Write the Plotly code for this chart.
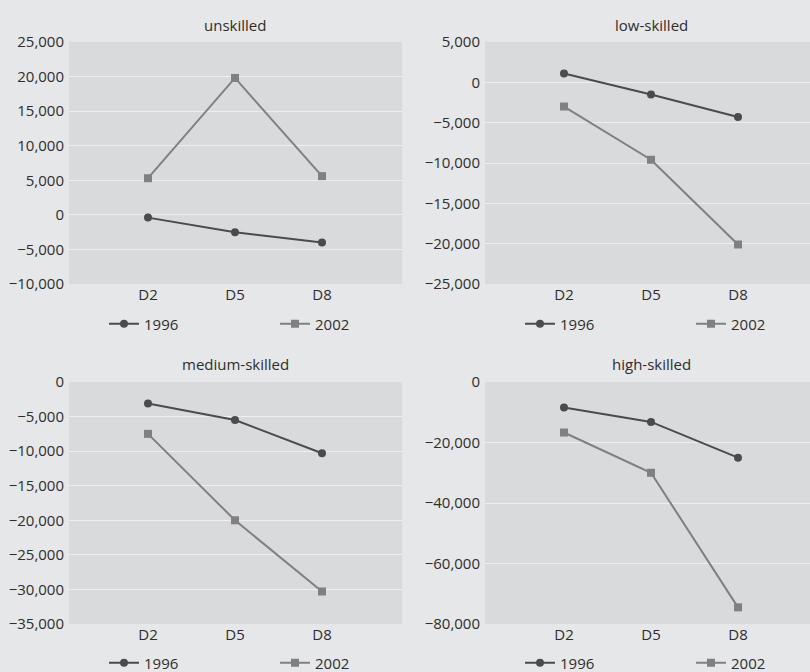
import plotly.graph_objects as go

# deciles shown on the x axis
deciles = ["D2", "D5", "D8"]

# values (1996 vs 2002)
unskilled_1996 = [-400, -2500, -4000]
unskilled_2002 = [5300, 19800, 5600]
low_1996 = [1100, -1500, -4300]
low_2002 = [-3000, -9600, -20100]
medium_1996 = [-3100, -5500, -10300]
medium_2002 = [-7500, -20000, -30300]
high_1996 = [-8400, -13200, -25000]
high_2002 = [-16700, -30000, -74500]

panel_titles = ["unskilled", "low-skilled", "medium-skilled", "high-skilled"]
y_ranges = [[-10000, 25000], [-25000, 5000], [-35000, 0], [-80000, 0]]
y_dticks = [5000, 5000, 5000, 20000]

W, H = 810, 672
paper_bg = "#e6e7e8"
plot_bg = "#d9dadb"
col_1996 = "#4b4b4d"
col_2002 = "#808082"
font = dict(family="Open Sans", size=15, color="#2e2e2e")

# panel boxes in pixels: (left, right, top, bottom)
boxes = [
    (69, 402, 42, 284),
    (485, 810, 42, 284),
    (69, 402, 382, 624),
    (485, 810, 382, 624),
]
title_y = [25, 25, 364, 364]
legend_y = [324, 324, 663, 663]
step = 87  # pixels between categories
first_cat = 79  # pixels from left edge of panel to D2

series = [
    (unskilled_1996, unskilled_2002),
    (low_1996, low_2002),
    (medium_1996, medium_2002),
    (high_1996, high_2002),
]

fig = go.Figure()
layout = {}
annotations = []

for i, (s96, s02) in enumerate(series):
    n = "" if i == 0 else str(i + 1)
    left, right, top, bottom = boxes[i]
    x0 = -first_cat / step
    x1 = x0 + (right - left) / step
    leg_a = "legend" if i == 0 else "legend" + str(2 * i + 1)
    leg_b = "legend" + str(2 * i + 2)

    fig.add_trace(
        go.Scatter(
            x=deciles,
            y=s96,
            name="1996",
            mode="lines+markers",
            line=dict(color=col_1996, width=2),
            marker=dict(symbol="circle", size=8, color=col_1996),
            xaxis="x" + n,
            yaxis="y" + n,
            legend=leg_a,
        )
    )
    fig.add_trace(
        go.Scatter(
            x=deciles,
            y=s02,
            name="2002",
            mode="lines+markers",
            line=dict(color=col_2002, width=2),
            marker=dict(symbol="square", size=8, color=col_2002),
            xaxis="x" + n,
            yaxis="y" + n,
            legend=leg_b,
        )
    )

    layout["xaxis" + n] = dict(
        domain=[left / W, right / W],
        anchor="y" + n,
        type="category",
        range=[x0, x1],
        showgrid=False,
        zeroline=False,
        showline=False,
        ticks="",
        tickfont=font,
    )
    layout["yaxis" + n] = dict(
        domain=[1 - bottom / H, 1 - top / H],
        anchor="x" + n,
        range=y_ranges[i],
        dtick=y_dticks[i],
        tick0=0,
        tickformat=",d",
        showgrid=True,
        gridcolor="#efefef",
        gridwidth=1.2,
        zeroline=False,
        showline=False,
        ticks="",
        ticklabelstandoff=4,
        tickfont=font,
    )
    for leg, offset in ((leg_a, 35), (leg_b, 206)):
        layout[leg] = dict(
            orientation="h",
            x=(left + offset) / W,
            xanchor="left",
            y=1 - legend_y[i] / H,
            yanchor="middle",
            bgcolor="rgba(0,0,0,0)",
            font=font,
            itemwidth=30,
        )
    annotations.append(
        dict(
            text=panel_titles[i],
            xref="x" + n,
            x=1,
            yref="paper",
            y=1 - title_y[i] / H,
            showarrow=False,
            xanchor="center",
            yanchor="middle",
            font=font,
        )
    )

fig.update_layout(
    width=W,
    height=H,
    margin=dict(l=0, r=0, t=0, b=0, autoexpand=False),
    paper_bgcolor=paper_bg,
    plot_bgcolor=plot_bg,
    showlegend=True,
    annotations=annotations,
    **layout,
)

fig.write_html(
    "out.html",
    config={"displayModeBar": False},
    post_script="document.body.style.margin='0';document.body.style.overflow='hidden';",
)
